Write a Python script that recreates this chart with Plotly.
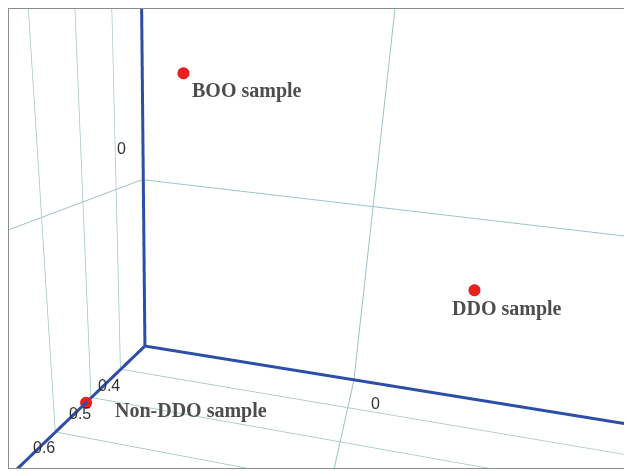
import plotly.graph_objects as go

# ---- data ----
sample_names = ["BOO sample", "DDO sample", "Non-DDO sample"]
x_vals = [0.45, 0.45, 0.52]
y_vals = [-0.508, 0.300, -0.745]
z_vals = [0.347, -0.134, -0.595]

x_ticks = [0.4, 0.5, 0.6]
y_ticks = [0]
z_ticks = [0]
x_tick_text = ["0.4", "0.5", "0.6"]
y_tick_text = ["0"]
z_tick_text = ["0"]

x_range = [0.305, 1.473]
y_range = [-0.75, 1.25]
z_range = [-0.6, 1.4]

# ---- figure ----
W, H = 640, 461
SCENE_W = 624
xmin, xmax = x_range
ymin, ymax = y_range
zmin, zmax = z_range
ex = (xmax - xmin) * 0.004
ey = (ymax - ymin) * 0.004
ez = (zmax - zmin) * 0.004

fig = go.Figure()

# blue axis edges meeting at the back corner of the box
fig.add_trace(go.Scatter3d(
    x=[xmin + ex, xmax, None, xmin + ex, xmin + ex, None, xmin + ex, xmin + ex],
    y=[ymin + ey, ymin + ey, None, ymin + ey, ymax, None, ymin + ey, ymin + ey],
    z=[zmin + ez, zmin + ez, None, zmin + ez, zmin + ez, None, zmin + ez, zmax],
    mode="lines", line=dict(color="#2c4ea8", width=6),
    hoverinfo="skip", connectgaps=False))

# samples
fig.add_trace(go.Scatter3d(
    x=x_vals, y=y_vals, z=z_vals, mode="markers", text=sample_names,
    marker=dict(size=7, color="#e8201f", line=dict(width=0)), hoverinfo="text"))

ax = dict(showticklabels=False, showgrid=True, gridcolor="#9cc3c3", gridwidth=2,
          showline=False, zeroline=False, showbackground=False,
          title=dict(text=""), showspikes=False, ticks="")

lab = dict(showarrow=False,
           font=dict(family="Liberation Serif", size=20, color="#4d4d4d", weight="bold"))
tk = dict(showarrow=False, font=dict(family="Liberation Sans", size=16, color="#333333"))

label_style = [
    dict(xanchor="left", yanchor="middle", xshift=7, yshift=-17),
    dict(xanchor="center", yanchor="middle", xshift=33, yshift=-18),
    dict(xanchor="left", yanchor="middle", xshift=27, yshift=-8),
]
scene_ann = []
for n, xv, yv, zv, st in zip(sample_names, x_vals, y_vals, z_vals, label_style):
    scene_ann.append(dict(lab, x=xv, y=yv, z=zv, text=n, **st))
for v, t in zip(x_ticks, x_tick_text):
    scene_ann.append(dict(tk, x=v, y=ymin, z=zmin, text=t, xshift=-11, yshift=-16))
for v, t in zip(y_ticks, y_tick_text):
    scene_ann.append(dict(tk, x=xmin, y=v, z=zmin, text=t, xshift=22, yshift=-23))
for v, t in zip(z_ticks, z_tick_text):
    scene_ann.append(dict(tk, x=xmin, y=ymin, z=v, text=t, xshift=-21, yshift=31))

frame = dict(type="line", xref="paper", yref="paper",
             line=dict(color="#8c8c8c", width=2), layer="above")

fig.update_layout(
    width=W, height=H, margin=dict(l=0, r=0, t=0, b=0), showlegend=False,
    paper_bgcolor="white", hovermode=False,
    scene=dict(
        domain=dict(x=[0, SCENE_W / W], y=[0, 1]),
        xaxis=dict(ax, range=x_range, tickvals=x_ticks),
        yaxis=dict(ax, range=y_range, tickvals=y_ticks),
        zaxis=dict(ax, range=z_range, tickvals=z_ticks),
        aspectmode="manual", aspectratio=dict(x=1, y=1, z=1),
        camera=dict(
            eye=dict(x=0.33008, y=-0.07922, z=-0.01275),
            center=dict(x=-0.61853, y=-0.21983, z=-0.29626),
            up=dict(x=-0.26715, y=-0.12447, z=0.95558),
            projection=dict(type="perspective"),
        ),
        annotations=scene_ann,
    ),
    shapes=[dict(frame, x0=0, x1=0, y0=0, y1=1),
            dict(frame, x0=0, x1=1, y0=1, y1=1),
            dict(frame, x0=0, x1=1, y0=0, y1=0)],
)

fig.write_html("out.html")
